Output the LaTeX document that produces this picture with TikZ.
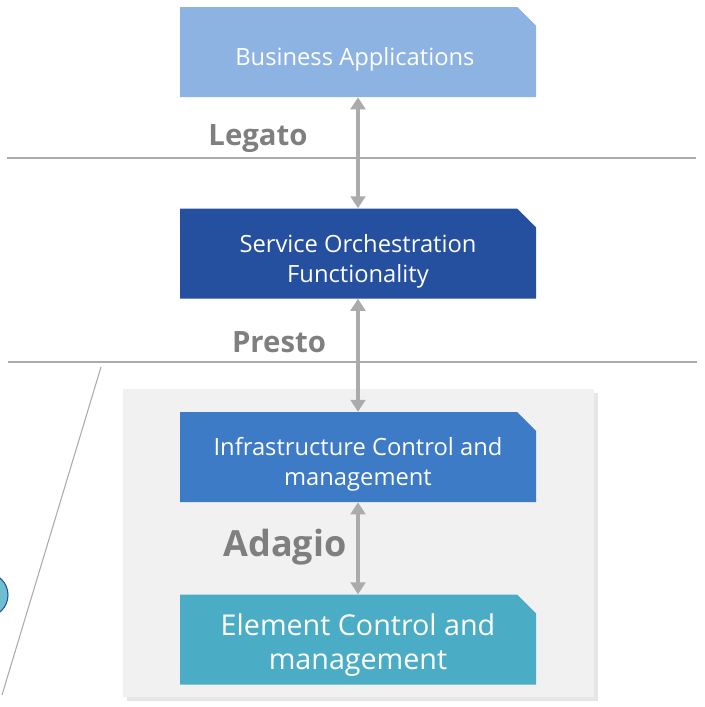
\documentclass[tikz,border=0pt]{standalone}
\usepackage{fontspec}
\setmainfont{Open Sans}
\usetikzlibrary{positioning, shapes.misc, arrows.meta, shadows}

\definecolor{bizblue}{HTML}{8DB3E2}
\definecolor{orchblue}{HTML}{254F9F}
\definecolor{infrablue}{HTML}{3D7BC7}
\definecolor{elemteal}{HTML}{4BACC6}
\definecolor{tagrey}{HTML}{7F7F7F}
\definecolor{linkgrey}{HTML}{ABABAB}
\definecolor{panelgrey}{HTML}{F1F1F1}

% extra room above the first line, pushes the text down a little
\newcommand{\toproom}[1]{\rule{0pt}{#1em}}

\begin{document}
\begin{tikzpicture}[x = 0.75pt, y = -0.75pt,
    layer/.style = { shape = chamfered rectangle, chamfered rectangle corners = north east,
      chamfered rectangle xsep = 10.5pt, chamfered rectangle angle = 45, inner sep = 0pt,
      minimum width = 267pt, minimum height = 67.5pt, align = center, text = white,
      font = \fontsize{17.8}{22.5}\selectfont },
    tag/.style = { text = tagrey, font = \fontsize{22}{26}\selectfont\bfseries },
    link/.style = { draw = linkgrey, line width = 3pt,
      {Triangle[width = 11pt, length = 9pt]}-{Triangle[width = 11pt, length = 9pt]} },
    sep/.style = { draw = linkgrey, line width = 0.8pt }]
  \useasboundingbox (0,0) rectangle (704,707);

  % grey panel
  \fill[panelgrey, drop shadow={opacity=0.2,shadow xshift=3pt,shadow yshift=-3pt}]
    (123,389) rectangle (594,697);

  % separators
  \draw[sep] (7,158) -- (696,158);
  \draw[sep] (8,362) -- (697,362);
  \draw[sep] (101,367) -- (2,695);
  \draw[fill = elemteal!80!white, draw = orchblue, line width = 0.8pt] (-14,595) circle[radius = 22];

  % layers
  \node[layer, fill = bizblue] (biz) at (358,52) { \toproom{1.4}Business Applications };
  \node[layer, fill = orchblue, below = 83.25pt of biz] (orch) { \toproom{1.4}Service Orchestration \\ Functionality };
  \node[layer, fill = infrablue, below = 84.75pt of orch] (infra) { \toproom{1.4}Infrastructure Control and \\ management };
  \node[layer, fill = elemteal, below = 69pt of infra,
    font = \fontsize{21.5}{25.5}\selectfont] (elem) { \toproom{1.15}Element Control and \\ management };

  % interfaces
  \draw[link] (biz.south) -- (orch.north);
  \draw[link] (orch.south) -- (infra.north);
  \draw[link] (infra.south) -- (elem.north);

  \node[tag] (legato) at (258,139) { Legato };
  \node[tag] (presto) at (279,342) { Presto };
  \node[tag, font = \fontsize{27}{32}\selectfont\bfseries] (adagio) at (285,547) { Adagio };
\end{tikzpicture}
\end{document}
